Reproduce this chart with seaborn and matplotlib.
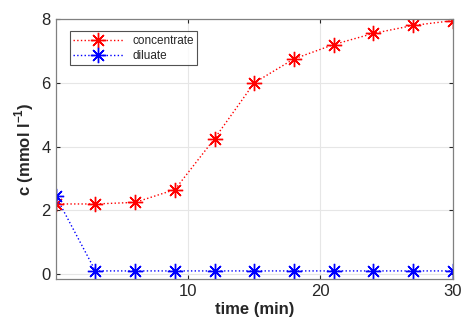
import numpy as np
import pandas as pd
import matplotlib
matplotlib.use("Agg")
from matplotlib import pyplot as plt
import seaborn as sns

# values
time_min = [0, 3, 6, 9, 12, 15, 18, 21, 24, 27, 30]
concentrate = [2.2, 2.2, 2.25, 2.65, 4.25, 6.0, 6.75, 7.2, 7.55, 7.8, 7.95]
diluate = [2.45, 0.1, 0.1, 0.1, 0.1, 0.1, 0.1, 0.1, 0.1, 0.1, 0.1]

df = pd.DataFrame({"time": time_min, "concentrate": concentrate, "diluate": diluate})

sns.set_style("ticks")
plt.rcParams['font.family'] = ['Liberation Sans', 'DejaVu Sans']
plt.rcParams['mathtext.fontset'] = 'custom'
plt.rcParams['mathtext.bf'] = 'Liberation Sans:bold'
plt.rcParams['mathtext.rm'] = 'Liberation Sans'

fig = plt.figure(figsize=(4.64, 3.34), dpi=100)
ax = fig.add_axes([0.12, 0.165, 0.856, 0.778])

# MATLAB style asterisk marker
star = (8, 2, 0)
sns.lineplot(data=df, x="time", y="concentrate", ax=ax, color="#ff0000",
             linestyle=":", linewidth=1.0, marker=star, markersize=11,
             markeredgewidth=1.0, markeredgecolor="#ff0000", label="concentrate")
sns.lineplot(data=df, x="time", y="diluate", ax=ax, color="#0000ff",
             linestyle=":", linewidth=1.0, marker=star, markersize=11,
             markeredgewidth=1.0, markeredgecolor="#0000ff", label="diluate")

ax.set_xlim(0, 30)
ax.set_ylim(-0.15, 8)
ax.set_xticks([10, 20, 30])
ax.set_yticks([0, 2, 4, 6, 8])
ax.grid(True, color="#e6e6e6", linewidth=0.8)
ax.tick_params(direction="in", top=True, right=True, labelsize=12,
               colors="#262626", length=3)
for s in ax.spines.values():
    s.set_color("#808080")
    s.set_linewidth(0.9)

ax.set_xlabel("time (min)", fontsize=12, fontweight="bold", labelpad=2)
ax.set_ylabel("c (mmol l$^{\\mathbf{-1}}$)", fontsize=12, fontweight="bold", labelpad=4)

leg = ax.legend(loc="upper left", fontsize=8.5, frameon=True, fancybox=False,
                edgecolor="#262626", borderpad=0.3, handlelength=4.2,
                labelspacing=0.25, bbox_to_anchor=(0.02, 0.975))
leg.get_frame().set_linewidth(0.8)

fig.savefig("out.png", dpi=100)
